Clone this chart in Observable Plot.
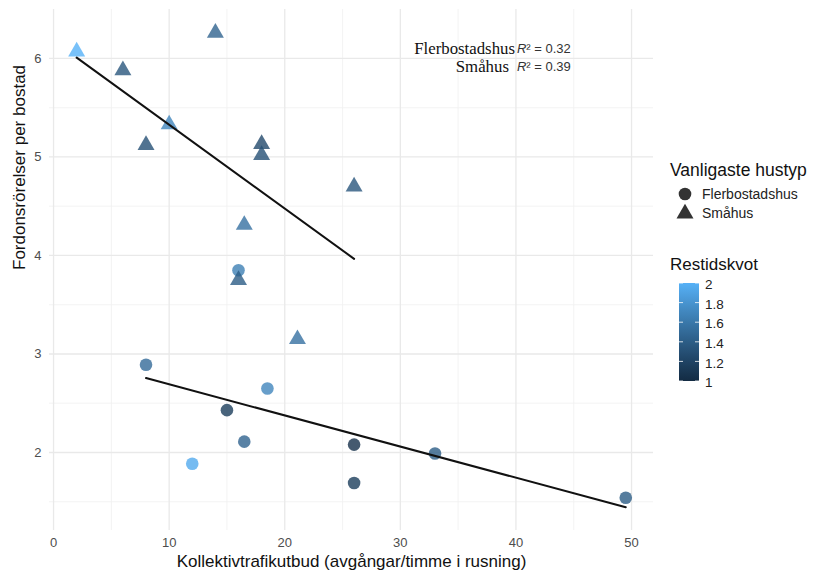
<!DOCTYPE html>
<html>
<head>
<meta charset="utf-8">
<script src="https://cdn.jsdelivr.net/npm/d3@7"></script>
<script src="https://cdn.jsdelivr.net/npm/@observablehq/plot@0.6"></script>
<style>
  html, body { margin: 0; padding: 0; background: #ffffff; }
  #chart { position: relative; width: 820px; height: 577px; }
</style>
</head>
<body>
<div id="chart"></div>
<script>
// ---- Data ----
const typeNames = ["Flerbostadshus", "Småhus"];

const smahusKollektiv = [2, 6, 14, 10, 8, 18, 18, 26, 16.5, 16, 21.1];
const smahusFordon    = [6.07, 5.88, 6.26, 5.33, 5.12, 5.13, 5.02, 4.70, 4.31, 3.75, 3.15];
const smahusRestid    = [2.0, 1.35, 1.45, 1.7, 1.3, 1.25, 1.3, 1.35, 1.55, 1.4, 1.55];

const flerKollektiv = [16, 8, 18.5, 15, 16.5, 12, 26, 26, 33, 49.5];
const flerFordon    = [3.85, 2.89, 2.65, 2.43, 2.11, 1.885, 2.08, 1.69, 1.99, 1.54];
const flerRestid    = [1.65, 1.5, 1.7, 1.15, 1.45, 1.95, 1.05, 1.15, 1.4, 1.4];

const xTicks = [0, 10, 20, 30, 40, 50];
const xMinor = [5, 15, 25, 35, 45];
const yTicks = [2, 3, 4, 5, 6];
const yMinor = [1.5, 2.5, 3.5, 4.5, 5.5];
const colorTicks = [1, 1.2, 1.4, 1.6, 1.8, 2];

const xTitle = "Kollektivtrafikutbud (avgångar/timme i rusning)";
const yTitle = "Fordonsrörelser per bostad";
const shapeLegendTitle = "Vanligaste hustyp";
const colorLegendTitle = "Restidskvot";

// ---- Build table ----
const rows = [
  ...flerKollektiv.map((x, i) => ({type: typeNames[0], x, y: flerFordon[i], r: flerRestid[i]})),
  ...smahusKollektiv.map((x, i) => ({type: typeNames[1], x, y: smahusFordon[i], r: smahusRestid[i]}))
];

function rSquared(xs, ys) {
  const mx = d3.mean(xs), my = d3.mean(ys);
  let sxy = 0, sxx = 0, syy = 0;
  xs.forEach((x, i) => { sxy += (x - mx) * (ys[i] - my); sxx += (x - mx) ** 2; syy += (ys[i] - my) ** 2; });
  return (sxy * sxy) / (sxx * syy);
}
const annoLabels = [
  {label: typeNames[0], r2: rSquared(flerKollektiv, flerFordon)},
  {label: typeNames[1], r2: rSquared(smahusKollektiv, smahusFordon)}
];
const annoY = [6.10, 5.915];
const annoGap = [-1, -7];

const lowColor = "#132B43", highColor = "#56B1F7";
const sans = "'Liberation Sans', Arial, Helvetica, sans-serif";

const chart = Plot.plot({
  width: 820,
  height: 577,
  marginLeft: 49,
  marginRight: 167,
  marginTop: 9,
  marginBottom: 47,
  x: {domain: [-0.35, 51.9], label: null},
  y: {domain: [1.208, 6.497], label: null},
  color: {type: "linear", domain: [1, 2], range: [lowColor, highColor], interpolate: "lab"},
  symbol: {domain: typeNames, range: ["circle", "triangle"]},
  style: {fontFamily: sans, fontSize: "13px", background: "#ffffff", overflow: "visible"},
  marks: [
    Plot.gridX(xMinor, {stroke: "#f0f0f0", strokeOpacity: 1, strokeWidth: 0.8}),
    Plot.gridY(yMinor, {stroke: "#f0f0f0", strokeOpacity: 1, strokeWidth: 0.8}),
    Plot.gridX(xTicks, {stroke: "#e9e9e9", strokeOpacity: 1, strokeWidth: 1.3}),
    Plot.gridY(yTicks, {stroke: "#e9e9e9", strokeOpacity: 1, strokeWidth: 1.3}),
    Plot.axisX(xTicks, {tickSize: 0, tickPadding: 7, color: "#4d4d4d", fontSize: 13, label: null, tickFormat: d3.format("d")}),
    Plot.axisY(yTicks, {tickSize: 0, tickPadding: 8, color: "#4d4d4d", fontSize: 13, label: null, tickFormat: d3.format("d")}),
    Plot.dot(rows, {x: "x", y: "y", symbol: "type", fill: "r", r: 6.3, fillOpacity: 0.8, stroke: "none"}),
    Plot.linearRegressionY(rows, {x: "x", y: "y", z: "type", stroke: "#111111", strokeWidth: 2, ci: 0}),
    Plot.text([annoLabels[0]], {x: () => 40, y: () => annoY[0], text: "label", textAnchor: "end", dx: annoGap[0],
      fontFamily: "'Liberation Serif', 'Times New Roman', serif", fontSize: 16.8, fill: "#111111"}),
    Plot.text([annoLabels[1]], {x: () => 40, y: () => annoY[1], text: "label", textAnchor: "end", dx: annoGap[1],
      fontFamily: "'Liberation Serif', 'Times New Roman', serif", fontSize: 16.8, fill: "#111111"}),
    Plot.text(annoLabels, {x: () => 40, y: (d, i) => annoY[i], text: d => "R² = " + d.r2.toFixed(2), textAnchor: "start", dx: 1,
      fontSize: 13, fill: "#333333", className: "r2lab"}),
    Plot.text([xTitle], {frameAnchor: "bottom", dy: 36, fontSize: 17, fill: "#111111"}),
    Plot.text([yTitle], {frameAnchor: "left", dx: -30, rotate: -90, fontSize: 17, fill: "#111111"})
  ]
});

document.getElementById("chart").appendChild(chart);

// Italic R in R² labels
d3.select(chart).selectAll(".r2lab text").each(function() {
  const s = this.textContent;
  this.textContent = "";
  const t = d3.select(this);
  t.append("tspan").attr("font-style", "italic").text(s.slice(0, 1));
  t.append("tspan").text(s.slice(1));
});

// ---- Legends (drawn into the same SVG) ----
const svg = d3.select(chart);
const lg = svg.append("g").attr("font-family", sans).attr("text-anchor", "start");

// Shape legend
lg.append("text").attr("x", 670).attr("y", 176).attr("font-size", 17.5).attr("fill", "#111").text(shapeLegendTitle);
const symArea = Math.PI * 6.3 * 6.3;
const symKinds = [d3.symbolCircle, d3.symbolTriangle];
typeNames.forEach((name, i) => {
  const cy = 194 + i * 19.5;
  lg.append("path")
    .attr("transform", `translate(685,${cy})`)
    .attr("d", d3.symbol(symKinds[i], symArea)())
    .attr("fill", "#000").attr("fill-opacity", 0.8);
  lg.append("text").attr("x", 702).attr("y", cy).attr("dy", "0.35em")
    .attr("font-size", 14).attr("fill", "#222").text(name);
});

// Color bar legend
lg.append("text").attr("x", 670).attr("y", 270).attr("font-size", 17).attr("fill", "#111").text(colorLegendTitle);
const barX = 679, barW = 20, barTop = 283, barBottom = 381;
const cScale = d3.scaleLinear().domain([1, 2]).range([barBottom, barTop]);
const defs = svg.append("defs");
const grad = defs.append("linearGradient").attr("id", "cbar").attr("x1", 0).attr("y1", 1).attr("x2", 0).attr("y2", 0);
const interp = d3.interpolateLab(lowColor, highColor);
d3.range(0, 1.0001, 0.05).forEach(t => {
  grad.append("stop").attr("offset", t).attr("stop-color", interp(t));
});
lg.append("rect").attr("x", barX).attr("y", barTop).attr("width", barW).attr("height", barBottom - barTop).attr("fill", "url(#cbar)");
colorTicks.forEach(v => {
  const y = cScale(v);
  lg.append("line").attr("x1", barX).attr("x2", barX + 4).attr("y1", y).attr("y2", y).attr("stroke", "#fff").attr("stroke-opacity", 0.8);
  lg.append("line").attr("x1", barX + barW - 4).attr("x2", barX + barW).attr("y1", y).attr("y2", y).attr("stroke", "#fff").attr("stroke-opacity", 0.8);
  lg.append("text").attr("x", 705).attr("y", y + 1.5).attr("dy", "0.35em").attr("font-size", 13.5).attr("fill", "#222").text(String(+v.toFixed(1)));
});
</script>
</body>
</html>
